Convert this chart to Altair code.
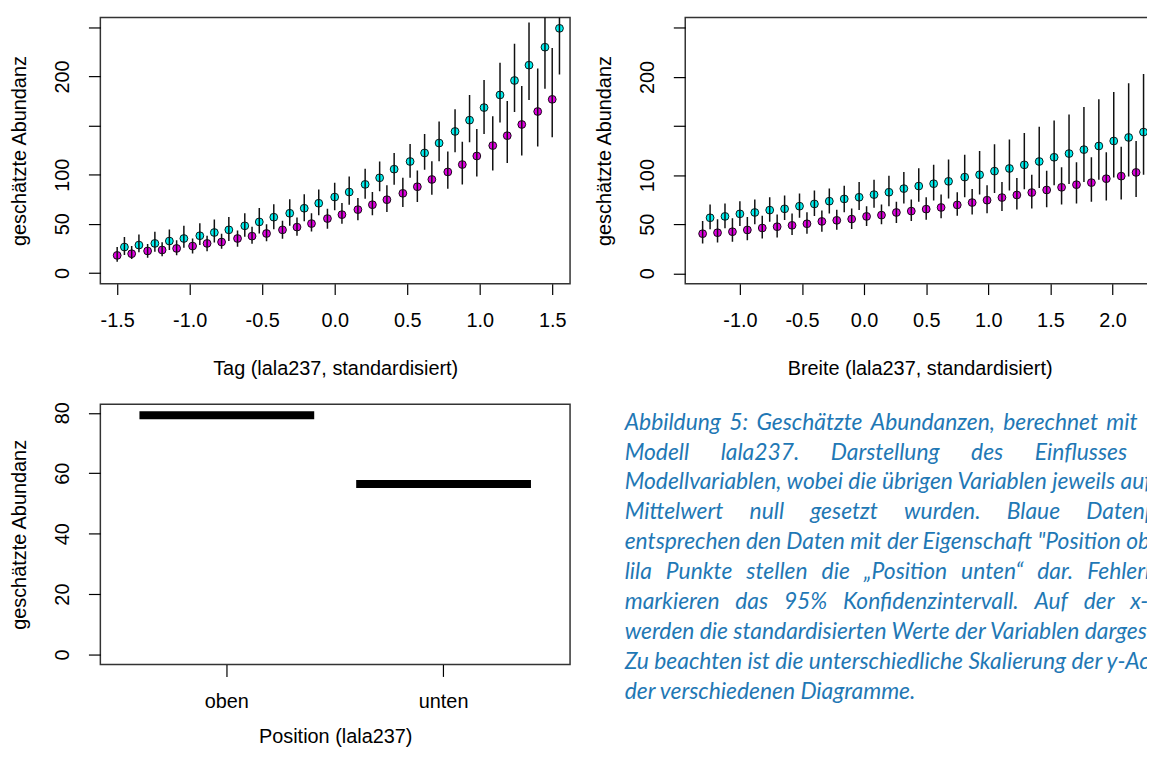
import altair as alt
import pandas as pd

FONT = "Liberation Sans"
CAP_FONT = "Lato"
CYAN = "#00F0F0"
MAGENTA = "#E000E0"
CAP_COLOR = "#1F78B5"

# ---------- Panel 1: Tag ----------
tag_x_unten = [-1.50, -1.40, -1.29, -1.19, -1.09, -0.98, -0.88, -0.78, -0.67, -0.57,
               -0.47, -0.36, -0.26, -0.16, -0.05, 0.05, 0.16, 0.26, 0.36, 0.47,
               0.57, 0.67, 0.78, 0.88, 0.98, 1.09, 1.19, 1.29, 1.40, 1.50]
tag_x_oben = [-1.45, -1.35, -1.24, -1.14, -1.04, -0.93, -0.83, -0.73, -0.62, -0.52,
              -0.42, -0.31, -0.21, -0.11, 0.00, 0.10, 0.21, 0.31, 0.41, 0.52,
              0.62, 0.72, 0.83, 0.93, 1.03, 1.14, 1.24, 1.34, 1.45, 1.55]
tag_unten = [17.8, 19.5, 22.3, 23.3, 24.9, 27.3, 30.0, 31.4, 35.0, 37.4,
             40.1, 43.8, 46.6, 50.2, 55.3, 59.3, 64.4, 69.4, 74.5, 81.0,
             87.7, 95.1, 102.8, 110.3, 119.0, 129.6, 139.7, 151.1, 164.3, 176.7]
tag_unten_lo = [11.4, 14.2, 15.5, 16.9, 17.9, 19.6, 21.9, 24.6, 26.6, 29.7,
                32.1, 34.8, 37.8, 42.2, 45.0, 49.9, 53.6, 58.7, 62.0, 67.1,
                72.2, 79.6, 85.6, 90.1, 98.2, 104.2, 112.0, 119.4, 128.8, 138.0]
tag_unten_hi = [26.3, 27.3, 29.4, 31.1, 33.1, 35.1, 37.8, 39.8, 43.2, 46.9,
                49.6, 53.0, 56.3, 60.7, 65.4, 71.2, 76.2, 82.3, 89.1, 96.8,
                104.2, 113.7, 123.5, 133.6, 146.4, 159.5, 175.0, 190.3, 208.0, 229.0]
tag_oben = [26.3, 28.3, 30.0, 32.4, 35.0, 37.8, 41.1, 43.8, 47.9, 51.9,
            56.7, 60.7, 65.8, 70.9, 77.2, 82.3, 90.1, 96.8, 105.6, 113.4,
            122.1, 132.2, 144.0, 155.5, 168.3, 181.2, 195.9, 211.5, 229.8, 249.0]
tag_oben_lo = [18.2, 20.9, 21.6, 23.3, 25.6, 28.3, 31.0, 32.4, 36.7, 40.1,
               44.5, 47.9, 52.6, 58.7, 63.8, 69.4, 75.5, 83.0, 89.7, 96.8,
               104.9, 113.7, 122.8, 132.9, 141.3, 153.1, 163.9, 176.1, 187.6, 202.0]
tag_oben_hi = [36.4, 39.1, 41.8, 44.1, 47.9, 50.6, 54.3, 57.0, 60.7, 66.1,
               69.8, 74.9, 80.0, 85.0, 91.7, 98.2, 105.9, 113.4, 122.1, 131.2,
               141.3, 154.1, 166.6, 181.2, 196.4, 213.9, 233.4, 255.0, 290.0, 320.0]

# ---------- Panel 2: Breite ----------
br_x_unten = [-1.30, -1.18, -1.06, -0.94, -0.82, -0.70, -0.58, -0.46, -0.34, -0.22,
              -0.10, 0.02, 0.14, 0.26, 0.38, 0.50, 0.62, 0.75, 0.87, 0.99,
              1.11, 1.23, 1.35, 1.47, 1.59, 1.71, 1.83, 1.95, 2.07, 2.19]
br_x_oben = [-1.24, -1.12, -1.00, -0.88, -0.76, -0.64, -0.52, -0.40, -0.28, -0.16,
             -0.04, 0.08, 0.20, 0.32, 0.44, 0.56, 0.68, 0.81, 0.93, 1.05,
             1.17, 1.29, 1.41, 1.53, 1.65, 1.77, 1.89, 2.01, 2.13, 2.25]
br_unten = [40.4, 41.4, 42.4, 44.2, 46.2, 47.5, 48.9, 50.5, 52.9, 54.0,
            55.3, 58.0, 59.3, 62.0, 63.4, 65.4, 67.1, 69.7, 72.1, 74.5,
            77.2, 79.8, 82.3, 84.9, 87.6, 90.3, 92.4, 96.4, 99.0, 102.8]
br_unten_lo = [30.3, 31.3, 32.3, 33.7, 35.4, 36.4, 39.1, 40.4, 42.4, 44.5,
               45.2, 48.2, 49.9, 51.2, 53.3, 54.6, 56.0, 58.6, 60.0, 61.3,
               63.4, 65.1, 66.1, 67.4, 70.1, 71.1, 72.8, 74.2, 75.2, 77.8]
br_unten_hi = [53.3, 55.0, 56.0, 57.3, 58.6, 60.0, 61.0, 62.3, 64.1, 64.7,
               66.1, 68.4, 70.1, 72.8, 75.2, 77.5, 80.2, 82.6, 86.0, 89.6,
               93.0, 97.0, 100.4, 104.5, 108.1, 113.2, 118.2, 123.3, 129.0, 134.8]
br_oben = [56.6, 58.0, 60.6, 62.0, 64.4, 65.7, 68.4, 70.7, 73.5, 75.8,
           77.5, 80.2, 82.6, 86.3, 88.9, 91.3, 93.7, 98.0, 100.4, 104.1,
           106.8, 110.5, 113.9, 118.2, 122.0, 126.0, 129.7, 134.8, 138.4, 143.9]
br_oben_lo = [44.9, 45.9, 48.2, 49.9, 52.5, 54.3, 56.6, 58.3, 61.0, 62.3,
              64.4, 66.7, 68.4, 71.1, 72.8, 74.2, 76.2, 77.5, 80.2, 81.9,
              84.3, 85.6, 86.9, 89.6, 90.9, 93.0, 95.4, 97.7, 98.7, 100.4]
br_oben_hi = [70.1, 71.1, 73.5, 75.2, 77.5, 79.2, 81.2, 84.3, 86.3, 89.3,
              93.0, 95.4, 99.4, 103.1, 107.1, 110.5, 115.9, 120.7, 124.7, 131.4,
              136.4, 142.9, 149.3, 155.6, 161.7, 169.5, 177.2, 184.6, 193.7, 203.1]

# ---------- Panel 3: Position ----------
positions = ["oben", "unten"]
position_values = [79.2, 56.4]

# ---------- Caption (the part visible in the cropped figure) ----------
caption_lines = [
    "Abbildung 5: Geschätzte Abundanzen, berechnet mit",
    "Modell lala237. Darstellung des Einflusses",
    "Modellvariablen, wobei die übrigen Variablen jeweils auf",
    "Mittelwert null gesetzt wurden. Blaue Datenpunkte",
    "entsprechen den Daten mit der Eigenschaft \"Position oben\",",
    "lila Punkte stellen die „Position unten“ dar. Fehlerbalken",
    "markieren das 95% Konfidenzintervall. Auf der x-Achse",
    "werden die standardisierten Werte der Variablen dargestellt.",
    "Zu beachten ist die unterschiedliche Skalierung der y-Achsen",
    "der verschiedenen Diagramme.",
]
# word gaps imitating the justified paragraph (style only)
caption_gaps = ["\u2004\u200a", "\u2003\u2002\u2005", " ", "\u2003\u2002", " ",
                "\u2002\u2006", "\u2002\u2005", " ", " ", " "]

YTITLE = "geschätzte Abundanz"


def series_df(xu, yu, lou, hiu, xo, yo, loo, hio):
    a = pd.DataFrame({"x": xu, "y": yu, "lo": lou, "hi": hiu, "grp": "unten"})
    b = pd.DataFrame({"x": xo, "y": yo, "lo": loo, "hi": hio, "grp": "oben"})
    return pd.concat([a, b], ignore_index=True)


def x_axis(values, title, title_x):
    return alt.Axis(
        values=values,
        labelExpr="(datum.value < 0 ? '-' : '') + format(abs(datum.value), '.1f')",
        title=title, domain=False, grid=False,
        tickSize=11, tickColor="black", tickWidth=1.2,
        labelFont=FONT, labelFontSize=20, labelColor="black",
        labelPadding=32, labelBaseline="alphabetic", labelAngle=0,
        labelFlush=False, labelOverlap=False,
        titleFont=FONT, titleFontSize=20, titleFontWeight="normal", titleColor="black",
        titleBaseline="alphabetic", titleAlign="center", titleX=title_x, titleY=91,
    )


def y_axis(values, label_expr, height):
    return alt.Axis(
        values=values, labelExpr=label_expr,
        title=YTITLE, domain=False, grid=False,
        tickSize=12, tickColor="black", tickWidth=1.2,
        labelFont=FONT, labelFontSize=20, labelColor="black",
        labelAngle=270, labelAlign="center", labelBaseline="alphabetic",
        labelPadding=20, labelOverlap=False, labelFlush=False,
        titleFont=FONT, titleFontSize=20, titleFontWeight="normal", titleColor="black",
        titleAngle=270, titleAlign="center", titleBaseline="alphabetic",
        titleX=-75, titleY=height / 2,
    )


def scatter_panel(df, xdom, ydom, xvals, xtitle, width, height, title_x):
    xs = alt.Scale(domain=xdom, nice=False, zero=False)
    ys = alt.Scale(domain=ydom, nice=False, zero=False)
    xa = x_axis(xvals, xtitle, title_x)
    ya = y_axis([0, 50, 100, 150, 200, 250],
                "datum.value == 150 || datum.value == 250 ? '' : datum.label", height)
    base = alt.Chart(df)
    pts = base.mark_circle(size=62, stroke="black", strokeWidth=0.9, opacity=1).encode(
        x=alt.X("x:Q", scale=xs, axis=xa, title=xtitle),
        y=alt.Y("y:Q", scale=ys, axis=ya, title=YTITLE),
        fill=alt.Fill("grp:N", scale=alt.Scale(domain=["oben", "unten"], range=[CYAN, MAGENTA]),
                      legend=None),
    )
    bars = base.mark_rule(color="#111111", strokeWidth=1.5, clip=True).encode(
        x=alt.X("x:Q", scale=xs, axis=xa, title=xtitle),
        y=alt.Y("lo:Q", scale=ys, axis=ya, title=YTITLE),
        y2="hi:Q",
    )
    return alt.layer(pts, bars).properties(width=width, height=height)


tag_df = series_df(tag_x_unten, tag_unten, tag_unten_lo, tag_unten_hi,
                   tag_x_oben, tag_oben, tag_oben_lo, tag_oben_hi)
br_df = series_df(br_x_unten, br_unten, br_unten_lo, br_unten_hi,
                  br_x_oben, br_oben, br_oben_lo, br_oben_hi)

tl = scatter_panel(tag_df, [-1.616, 1.623], [-11, 260],
                   [-1.5, -1.0, -0.5, 0.0, 0.5, 1.0, 1.5],
                   "Tag (lala237, standardisiert)", 473, 268, 236.5)
# right panel runs past the cropped edge of the figure
tr = scatter_panel(br_df, [-1.44, 3.445], [-10.5, 260.5],
                   [-1.0, -0.5, 0.0, 0.5, 1.0, 1.5, 2.0],
                   "Breite (lala237, standardisiert)", 611, 268, 236)

pos_df = pd.DataFrame({"pos": positions, "val": position_values})
bl = alt.Chart(pos_df).mark_tick(thickness=8, size=176, color="black", opacity=1).encode(
    x=alt.X("pos:N",
            scale=alt.Scale(type="band", domain=positions, paddingInner=0.193, paddingOuter=0.18),
            axis=alt.Axis(title="Position (lala237)", labelAngle=0, domain=False, grid=False,
                          tickSize=12, tickColor="black", tickWidth=1.2,
                          labelFont=FONT, labelFontSize=20, labelColor="black",
                          labelPadding=31.5, labelBaseline="alphabetic",
                          titleFont=FONT, titleFontSize=20, titleFontWeight="normal",
                          titleColor="black", titleBaseline="alphabetic", titleAlign="center",
                          titleX=236.5, titleY=78.5)),
    y=alt.Y("val:Q", scale=alt.Scale(domain=[-3.3, 82.8], nice=False, zero=False),
            axis=y_axis([0, 20, 40, 60, 80], "datum.label", 262)),
).properties(width=473, height=262)

cap_df = pd.DataFrame({
    "line": list(range(len(caption_lines))),
    "text": [t.replace(" ", g) for t, g in zip(caption_lines, caption_gaps)],
})
cap = alt.Chart(cap_df).mark_text(
    align="left", baseline="alphabetic", font=CAP_FONT, fontStyle="italic",
    fontSize=23, color=CAP_COLOR,
).encode(
    x=alt.value(-61),
    y=alt.Y("line:Q", scale=alt.Scale(domain=[0, 9], range=[25.5, 296.4]), axis=None),
    text="text:N",
).properties(width=400, height=300, view=alt.ViewBackground(stroke="transparent"))

chart = alt.concat(
    tl, tr, bl, cap, columns=2,
    spacing={"row": 121.5, "column": 116},
    bounds="flush", align="each",
).properties(
    padding={"left": 1, "top": 6, "right": -147, "bottom": 0},
    background="white",
).configure_view(stroke="#333333", strokeWidth=1.5)

chart.save("out.html", embed_options={"renderer": "svg", "actions": False})
